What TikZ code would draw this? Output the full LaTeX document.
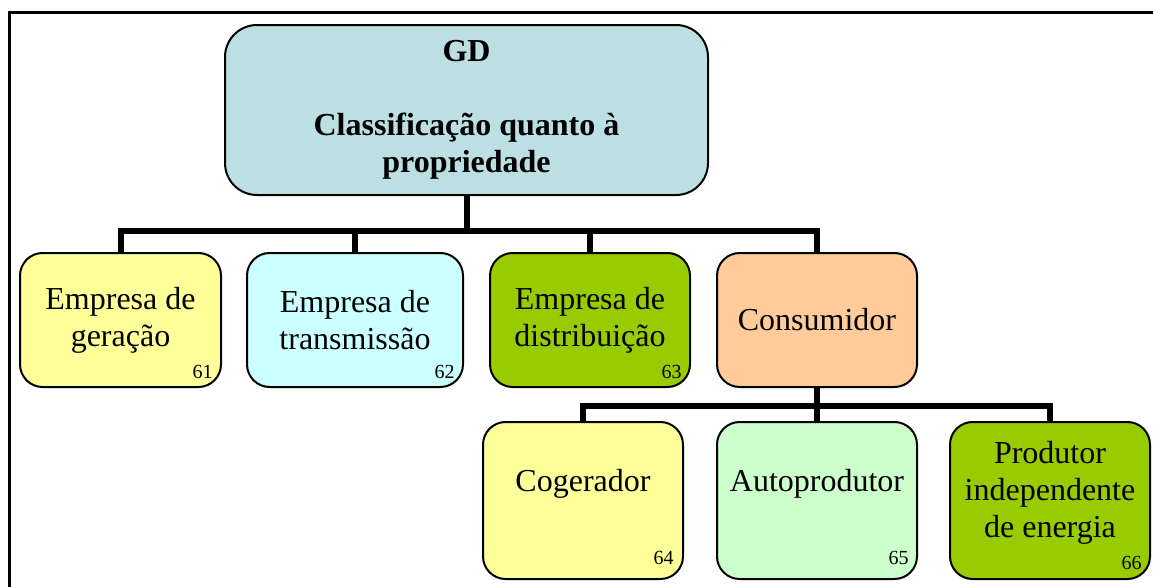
\documentclass[tikz,border=0pt]{standalone}
\usepackage{fontspec}
\setmainfont{Liberation Serif}
\usetikzlibrary{positioning}
\definecolor{gdazul}{HTML}{BBDFE3}
\definecolor{amarelo}{HTML}{FFFF99}
\definecolor{ciano}{HTML}{CCFFFF}
\definecolor{verde}{HTML}{99CC00}
\definecolor{pessego}{HTML}{FFCC99}
\definecolor{verdeclaro}{HTML}{CCFFCC}
\tikzset{
  caixa/.style={draw=black, line width=1.5pt, rounded corners=17pt, align=center,
    inner sep=0pt, minimum width=150pt, minimum height=100.5pt,
    font=\fontsize{24}{27.75}\selectfont},
  caixabaixa/.style={caixa, minimum height=117.75pt},
  ramo/.style={line width=4.5pt},
  num/.style={anchor=base east, inner sep=0pt, font=\fontsize{15}{15}\selectfont},
}
\begin{document}
\begin{tikzpicture}[x=0.75pt, y=-0.75pt]
  \useasboundingbox (0,0) rectangle (1153,586);
  \clip (0,0) rectangle (1153,586);
  % moldura
  \draw [line width=2.5pt] (9.5,620) -- (9.5,12.5) -- (1200,12.5);
  % caixas
  \node [caixa, fill=gdazul, minimum width=362.25pt, minimum height=127.5pt,
         rounded corners=24pt, font=\fontsize{24}{27.75}\selectfont\bfseries] (gd) at (466.5,110)
        {GD\\[27.75pt]Classificação quanto à\\propriedade};
  \node [caixa, fill=amarelo, minimum width=150.75pt] (gen) at (120.5,320) {Empresa de\\geração};
  \node [caixa, fill=ciano, minimum width=162pt] (trans) at (355,320) {Empresa de\\transmissão};
  \node [caixa, fill=verde] (dist) at (590,320) {Empresa de\\distribuição};
  \node [caixa, fill=pessego] (cons) at (817,320) {Consumidor};
  \node [caixabaixa, fill=amarelo, text height=16.4pt, text depth=29.2pt] (cog) at (583,500.5) {Cogerador};
  \node [caixabaixa, fill=verdeclaro, text height=16.4pt, text depth=29.2pt] (auto) at (817,500.5) {Autoprodutor};
  \node [caixabaixa, fill=verde, text depth=17.2pt] (prod) at (1050,500.5) {Produtor\\independente\\de energia};
  % ligações
  \foreach \filho in {gen,trans,dist,cons}
    \draw [ramo] (gd.south) -- ++(0,35) -| (\filho.north);
  \foreach \filho in {cog,auto,prod}
    \draw [ramo] (cons.south) -- ++(0,18) -| (\filho.north);
  % números
  \node [num] (n61) at ([shift={(-9,-10)}]gen.south east) {61};
  \node [num] (n62) at ([shift={(-9,-10)}]trans.south east) {62};
  \node [num] (n63) at ([shift={(-9,-10)}]dist.south east) {63};
  \node [num] (n64) at ([shift={(-10,-16)}]cog.south east) {64};
  \node [num] (n65) at ([shift={(-9,-16)}]auto.south east) {65};
  \node [num] (n66) at ([shift={(-9,-11)}]prod.south east) {66};
\end{tikzpicture}
\end{document}
